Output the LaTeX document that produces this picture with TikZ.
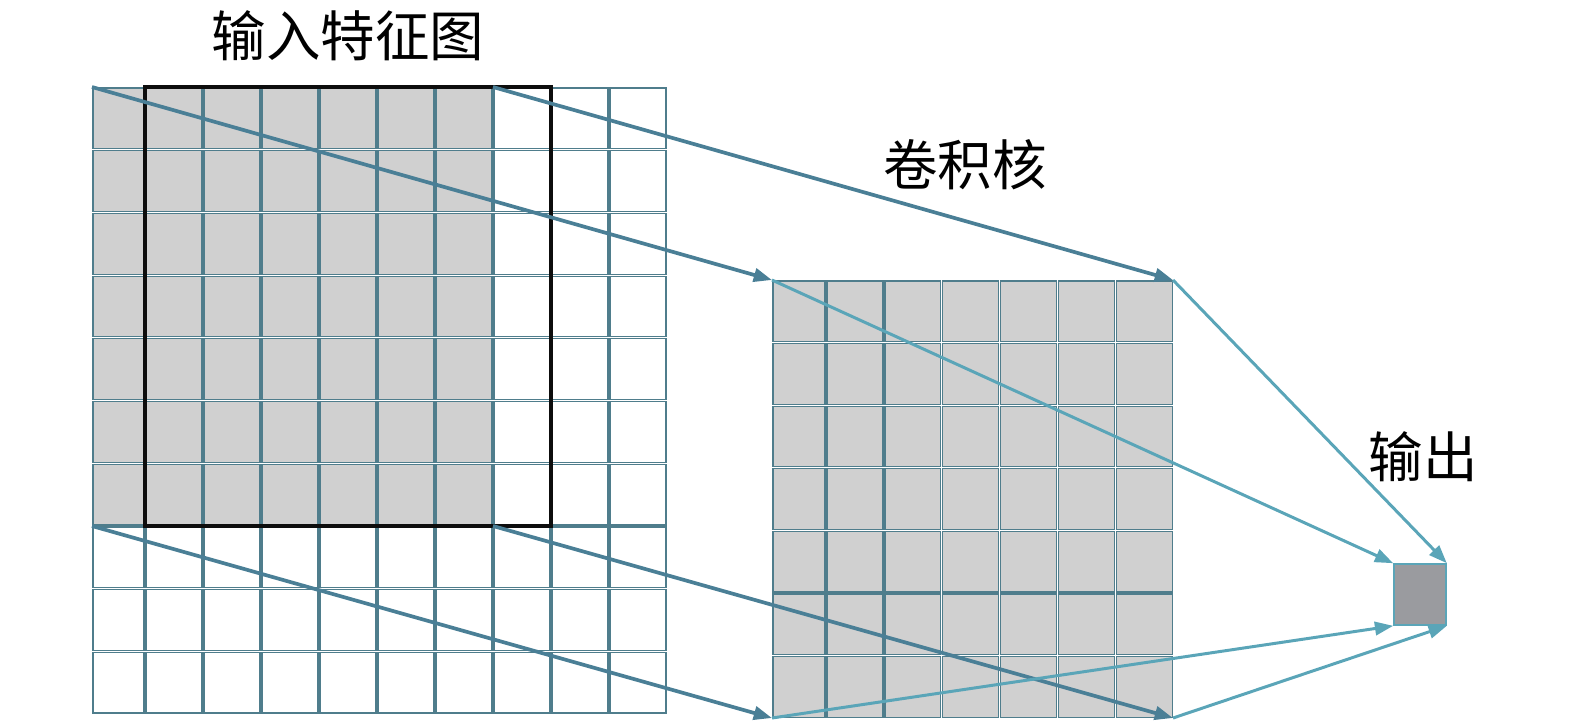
\documentclass[tikz,border=0pt]{standalone}
\usepackage{fontspec}
\newfontfamily\cjk{Noto Sans CJK SC}
\usetikzlibrary{arrows.meta}
\definecolor{gridline}{HTML}{4F7D8C}
\definecolor{cellgray}{HTML}{D0D0D0}
\definecolor{darkarrow}{HTML}{4A7F96}
\definecolor{lightarrow}{HTML}{5AA5B8}
\definecolor{outgray}{HTML}{9A9B9F}

\begin{document}
\begin{tikzpicture}[x=0.01cm,y=-0.01cm,every node/.style={font=\cjk\fontsize{15.5}{18}\selectfont},
  cell/.style={draw=gridline,line width=.35pt},
  darkline/.style={draw=darkarrow,line width=1.05pt,-{Triangle[length=5.2pt,width=3.8pt]}},
  lightline/.style={draw=lightarrow,line width=.85pt,-{Triangle[length=5.2pt,width=3.8pt]}}]
\useasboundingbox (0,0) rectangle (1575,726);
% input feature map
\foreach \i in {0,...,9}
  \foreach \j in {0,...,9}{
    \pgfmathsetmacro\xa{max(92,87+58*\i)+1}
    \pgfmathsetmacro\xb{87+58*(\i+1)-1}
    \pgfmathsetmacro\ya{87+62.7*\j+1}
    \pgfmathsetmacro\yb{87+62.7*(\j+1)-1}
    \draw[cell] (\xa,\ya) rectangle (\xb,\yb);
  }
\foreach \i in {0,...,6}
  \foreach \j in {0,...,6}{
    \pgfmathsetmacro\xa{max(92,87+58*\i)+1}
    \pgfmathsetmacro\xb{87+58*(\i+1)-1}
    \pgfmathsetmacro\ya{87+62.7*\j+1}
    \pgfmathsetmacro\yb{87+62.7*(\j+1)-1}
    \draw[cell,fill=cellgray] (\xa,\ya) rectangle (\xb,\yb);
  }
\draw[line width=1.35pt,black!95] (145,87) rectangle (551,526);
% kernel
\foreach \i in {0,...,6}
  \foreach \j in {0,...,6}{
    \pgfmathsetmacro\xa{max(772,768.1+57.9*\i)+1}
    \pgfmathsetmacro\xb{768.1+57.9*(\i+1)-1}
    \pgfmathsetmacro\ya{280+62.6*\j+1}
    \pgfmathsetmacro\yb{280+62.6*(\j+1)-1}
    \draw[cell,fill=cellgray] (\xa,\ya) rectangle (\xb,\yb);
  }
\coordinate (in-nw) at (92,87);
\coordinate (in-ne) at (493,87);
\coordinate (in-sw) at (92,526);
\coordinate (in-se) at (493,526);
\coordinate (k-nw) at (772,280);
\coordinate (k-ne) at (1173,280);
\coordinate (k-sw) at (772,718);
\coordinate (k-se) at (1173,718);
\node[draw=lightarrow,fill=outgray,line width=.45pt,inner sep=0pt,minimum width=.52cm,minimum height=.61cm] (out) at (1420,594.5) {};
% connectors
\draw[darkline] (in-nw)--(k-nw);
\draw[darkline] (in-ne)--(k-ne);
\draw[darkline] (in-sw)--(k-sw);
\draw[darkline] (in-se)--(k-se);
\draw[lightline] (k-nw)--(out.north west);
\draw[lightline] (k-ne)--(out.north east);
\draw[lightline] (k-sw)--(out.south west);
\draw[lightline] (k-se)--(out.south east);
% labels
\node (inlabel) at (348,36) {输入特征图};
\node (klabel) at (965,165) {卷积核};
\node (outlabel) at (1423,457) {输出};
\end{tikzpicture}
\end{document}
